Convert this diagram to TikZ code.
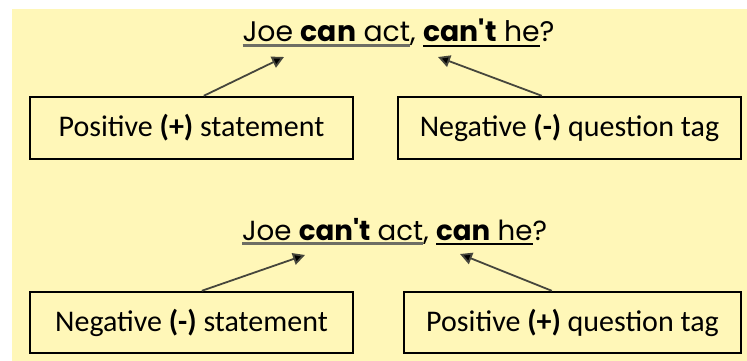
\documentclass[tikz,border=0pt]{standalone}
\usepackage{fontspec}
\setmainfont{Carlito}
\newfontfamily\geo{Poppins}
\usetikzlibrary{arrows.meta}
\definecolor{bgyellow}{RGB}{255,247,184}
\definecolor{arrowgray}{RGB}{70,70,60}
\definecolor{ulgray}{RGB}{110,110,100}
\newcommand\ulblk[1]{\setbox0\hbox{#1}\rlap{\raisebox{-4pt}{\color{black}\rule{\wd0}{1.6pt}}}\box0}
\newcommand\ulgry[1]{\setbox0\hbox{#1}\rlap{\raisebox{-4pt}{\color{ulgray}\rule{\wd0}{2pt}}}\box0}
\begin{document}
\begin{tikzpicture}[x=1pt,y=-1pt,
  box/.style={draw=black,line width=2.4pt,inner sep=0pt,font=\fontsize{30}{33}\selectfont},
  sent/.style={anchor=base,inner sep=0pt,font=\geo\fontsize{24}{28}\selectfont},
  arr/.style={draw=arrowgray,line width=1.8pt,-{Triangle[length=12pt,width=12pt,fill=black]}}]
\fill[white] (0,0) rectangle (747,361);
\fill[bgyellow] (12,9) rectangle (747,361);
\useasboundingbox (0,0) rectangle (747,361);
% boxes
\node[box,minimum width=323pt,minimum height=62pt] (b1) at (191.5,128) {Positive \textbf{(+)} statement};
\node[box,minimum width=343pt,minimum height=62pt] (b2) at (569.5,128) {Negative \textbf{(-)} question tag};
\node[box,minimum width=323pt,minimum height=61pt] (b3) at (191.5,322.5) {Negative \textbf{(-)} statement};
\node[box,minimum width=337pt,minimum height=61pt] (b4) at (572.5,322.5) {Positive \textbf{(+)} question tag};
% sentences
\node[sent] (s1) at (398.5,42) {\resizebox{312pt}{!}{\ulgry{Joe \textbf{can} act}, \ulblk{\textbf{can't} he}?}};
\node[sent] (s2) at (394.5,240) {\resizebox{305pt}{!}{\ulgry{Joe \textbf{can't} act}, \ulblk{\textbf{can} he}?}};
% arrow targets
\coordinate (t1) at (284,57);
\coordinate (t2) at (438,57);
\coordinate (t3) at (305,255);
\coordinate (t4) at (460,254);
\draw[arr] ([xshift=175pt]b1.north west) -- (t1);
\draw[arr] ([xshift=145pt]b2.north west) -- (t2);
\draw[arr] ([xshift=173pt]b3.north west) -- (t3);
\draw[arr] ([xshift=149pt]b4.north west) -- (t4);
\end{tikzpicture}
\end{document}
